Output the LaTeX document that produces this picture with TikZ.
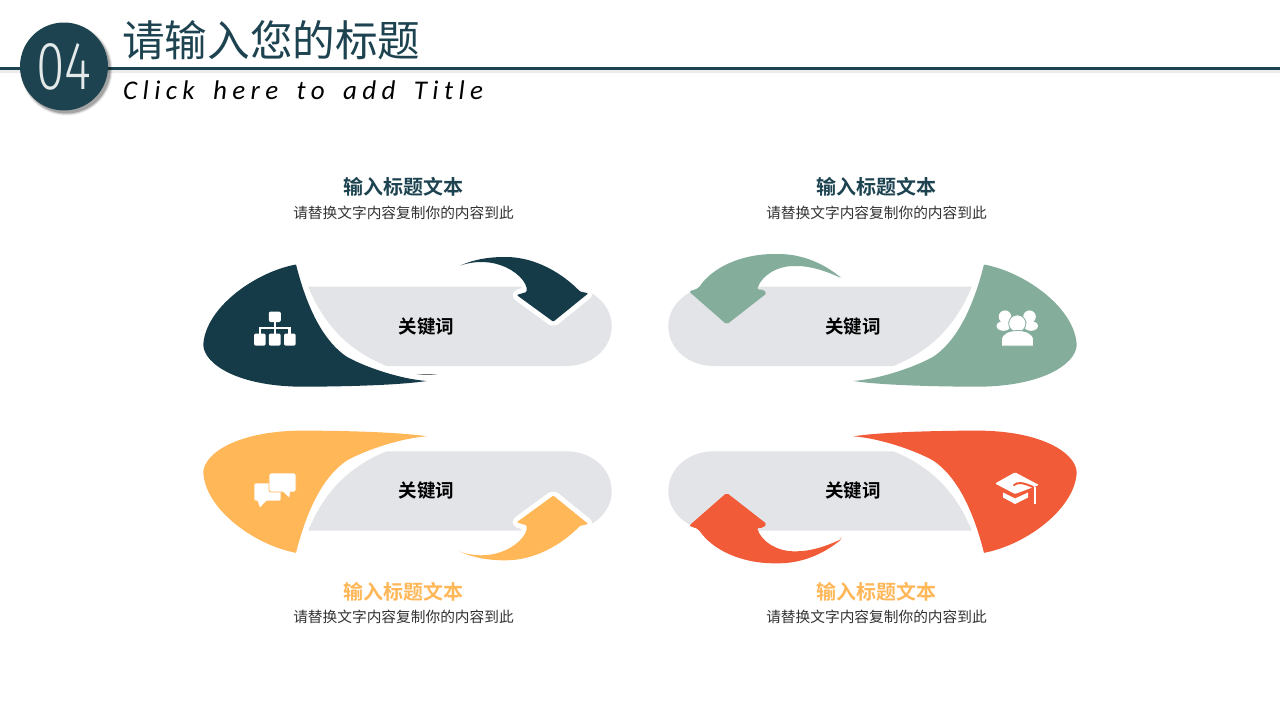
\documentclass[tikz,border=0pt]{standalone}
\usepackage{fontspec}
\setmainfont{Noto Sans CJK SC}[BoldFont=Noto Sans CJK SC Bold]
\newfontfamily\hand[LetterSpace=20,WordSpace=1.6]{Carlito}
\newfontfamily\numfont{Fira Sans Light}
\definecolor{cdark}{HTML}{163B48}
\definecolor{ctitle}{HTML}{1D4351}
\definecolor{cgreen}{HTML}{85AD9C}
\definecolor{cyellow}{HTML}{FFB758}
\definecolor{corange}{HTML}{F15B37}
\definecolor{cgrey}{HTML}{E3E4E8}
\newcommand{\panelshapes}[2]{%
  \fill[cgrey] (308.3,286.7) -- (566.7,286.7) .. controls (592,286.7) and (611.7,305) .. (611.7,326) .. controls (611.7,350) and (590,366) .. (566.7,366) -- (386.7,366) .. controls (352,352) and (325,328) .. (308.3,286.7) -- cycle;
  \fill[#1] (296,264.5) .. controls (255,272) and (205,308) .. (203.3,345) .. controls (204,364) and (238,387) .. (305,386.7) .. controls (350,386.5) and (400,385) .. (426.7,381) .. controls (400,379) and (365,367) .. (346.7,356.7) .. controls (325,342) and (308,312) .. (296,264.5) -- cycle;
}
\newcommand{\darkarrow}{(460,265.7) .. controls (475,259) and (490,257) .. (505,257) .. controls (535,257) and (562,273) .. (580,291.5) -- (588.3,293.3) -- (553.3,321.7) -- (516.7,295) -- (526.5,292) .. controls (528,282) and (515,270) .. (500,265) .. controls (488,261) and (473,261) .. (460,265.7) -- cycle}
\newcommand{\greenarrow}{(841.7,278.3) .. controls (822,262) and (800,254) .. (776.7,254) .. controls (740,254) and (712,268) .. (698.3,288.3) -- (689,291.5) -- (726.7,324.5) -- (766.5,293.5) -- (763.5,289.5) -- (757,289.5) .. controls (762,275) and (778,266) .. (795,266) .. controls (812,266) and (828,272) .. (841.7,278.3) -- cycle}
\tikzset{
  headtext/.style={inner sep=0pt,font=\fontsize{20}{24}\selectfont\bfseries},
  subtext/.style={inner sep=0pt,text=black!80,font=\fontsize{14.7}{18}\selectfont},
  keytext/.style={inner sep=0pt,text=black,font=\fontsize{18.5}{22}\selectfont\bfseries},
  icon/.style={fill=white,draw=none},
  mirrorx/.style={shift={(1280,0)},xscale=-1},
  mirrory/.style={shift={(0,817.3)},yscale=-1},
  halo/.style={draw=white,line width=10pt,line join=round,fill=white}
}
\begin{document}
\begin{tikzpicture}[x=1pt,y=-1pt]
\useasboundingbox (0,0) rectangle (1280,720);
\fill[white] (0,0) rectangle (1280,720);
% header
\fill[black!8] (0,69.5) rectangle (1280,73);
\fill[ctitle] (0,67) rectangle (1280,70);
\foreach \r/\o in {46/0.08,45/0.12,44/0.2}{\fill[black,opacity=\o] (66.5,69.5) circle[radius=\r];}
\fill[ctitle] (64,66.5) circle[radius=44];
\node[inner sep=0pt,text=white!88!ctitle,font=\numfont\fontsize{68}{76}\selectfont] (num) at (64,67) {\scalebox{0.76}[1]{04}};
\node[inner sep=0pt,anchor=west,text=ctitle,font=\fontsize{42.6}{50}\selectfont] (title) at (122,40) {请输入您的标题};
\node[inner sep=0pt,anchor=base west,text=black,font=\hand\itshape\fontsize{27}{32}\selectfont] (sub) at (123,99) {Click here to add Title};
% panels
\panelshapes{cdark}{}
\fill[black!55] (417,374.8) .. controls (425,373.8) and (430,373.8) .. (437,374.8) -- cycle;
\draw[halo,rounded corners=2pt] \darkarrow;
\fill[cdark,rounded corners=1pt] \darkarrow;
\begin{scope}[mirrorx]
\panelshapes{cgreen}{}
\end{scope}
\fill[cgreen,rounded corners=2pt] \greenarrow;
\begin{scope}[mirrory]
\panelshapes{cyellow}{}
\draw[halo,rounded corners=2pt] \darkarrow;
\fill[cyellow,rounded corners=1pt] \darkarrow;
\end{scope}
\begin{scope}[mirrory]
\begin{scope}[mirrorx]
\panelshapes{corange}{}
\end{scope}
\fill[corange,rounded corners=2pt] \greenarrow;
\end{scope}
% texts
\node[headtext,text=ctitle] (h1) at (403.5,187) {输入标题文本};
\node[subtext] (s1) at (403.5,212.5) {请替换文字内容复制你的内容到此};
\node[headtext,text=ctitle] (h2) at (876.5,187) {输入标题文本};
\node[subtext] (s2) at (876.5,212.5) {请替换文字内容复制你的内容到此};
\node[headtext,text=cyellow] (h3) at (403.5,591.5) {输入标题文本};
\node[subtext] (s3) at (403.5,617) {请替换文字内容复制你的内容到此};
\node[headtext,text=cyellow] (h4) at (876.5,591.5) {输入标题文本};
\node[subtext] (s4) at (876.5,617) {请替换文字内容复制你的内容到此};
\node[keytext] (k1) at (426.5,326.5) {关键词};
\node[keytext] (k2) at (853,326.5) {关键词};
\node[keytext] (k3) at (426.5,490.5) {关键词};
\node[keytext] (k4) at (853,490.5) {关键词};
% hierarchy icon
\draw[white,line width=2.2pt] (274.8,320) -- (274.8,335) (259.7,335) -- (259.7,328.3) -- (289.5,328.3) -- (289.5,335);
\fill[icon,rounded corners=2pt] (268.8,311.5) rectangle (280.9,322);
\fill[icon,rounded corners=2pt] (254,333.5) rectangle (265.7,345.7);
\fill[icon,rounded corners=2pt] (268.8,333.5) rectangle (280.7,345.7);
\fill[icon,rounded corners=2pt] (284,333.5) rectangle (295.7,345.7);
% people icon
\fill[icon] (1005,316.7) circle[radius=6.3];
\fill[icon] (1029.5,316.7) circle[radius=6.3];
\fill[icon] (1003.5,326) ellipse[x radius=7,y radius=4.8];
\fill[icon] (1031,326) ellipse[x radius=7,y radius=4.8];
\filldraw[fill=white,draw=cgreen,line width=0.8pt] (1017.3,323.5) circle[radius=8.6];
\filldraw[fill=white,draw=cgreen,line width=0.8pt] (1001.5,346) -- (1001.5,340) .. controls (1001.5,333) and (1010,330.5) .. (1017.3,330.5) .. controls (1025,330.5) and (1033.5,333) .. (1033.5,340) -- (1033.5,346) -- cycle;
% chat icon
\fill[icon,rounded corners=2pt] (254.3,483.3) rectangle (280.7,500.7);
\fill[icon] (257,499) -- (260,507.3) -- (268,499) -- cycle;
\filldraw[fill=white,draw=cyellow,line width=0.8pt,rounded corners=2pt] (269,473) rectangle (296,492);
\fill[icon] (282.5,491) -- (289.3,497.5) -- (290,491) -- cycle;
% cap icon
\fill[icon,rounded corners=1pt] (995,483.5) -- (1015,472.3) -- (1039,485) -- (1015,494) -- cycle;
\fill[icon,line join=round] (1003,492.5) -- (1015,498.5) -- (1028,492.5) -- (1028,497.5) -- (1015,504) -- (1003,497.5) -- cycle;
\draw[corange,line width=2pt,line cap=round] (1014,485) .. controls (1018,481.5) and (1024,483) .. (1033,487);
\draw[white,line width=1.6pt] (1034.8,487) -- (1034.8,503.5);
\end{tikzpicture}
\end{document}
